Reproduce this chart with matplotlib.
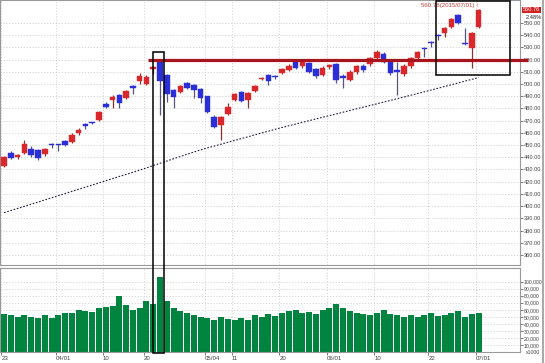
import numpy as np
import matplotlib
matplotlib.use('Agg')
import matplotlib.pyplot as plt
import matplotlib.transforms as mtransforms
from matplotlib.patches import Rectangle
from matplotlib.lines import Line2D

# daily candles
opens = [432.9, 443.5, 440.3, 443.5, 446.8, 446.0, 442.7, 450.6, 450.6, 453.4,
         452.5, 459.9, 467.3, 468.9, 470.6, 483.7, 486.9, 491.0, 488.6, 498.4,
         502.5, 500.0, 512.3, 518.9, 507.4, 495.1, 493.5, 500.8, 499.2, 495.9,
         490.2, 473.0, 466.5, 475.5, 486.9, 493.5, 486.9, 494.3, 504.1, 507.4,
         506.6, 509.1, 511.5, 518.1, 514.8, 517.2, 512.3, 507.4, 514.0, 516.4,
         506.6, 503.3, 509.9, 514.8, 516.4, 521.3, 524.6, 519.7, 511.5, 508.2,
         514.8, 521.3, 529.5, 534.4, 540.2, 541.8, 546.7, 556.6, 533.6, 529.5,
         546.7]
highs = [441.1, 445.2, 442.7, 454.2, 449.3, 446.8, 447.6, 451.5, 451.0, 454.2,
         459.9, 464.0, 468.1, 469.3, 477.9, 485.3, 491.0, 491.5, 495.1, 498.8,
         509.1, 507.4, 514.8, 520.0, 508.2, 496.0, 499.2, 501.7, 500.0, 496.8,
         490.2, 474.7, 474.0, 484.5, 492.7, 494.3, 493.5, 499.2, 505.8, 508.2,
         507.4, 513.1, 516.4, 519.0, 519.7, 518.1, 513.1, 514.8, 516.4, 517.2,
         508.2, 511.5, 515.6, 516.4, 522.2, 527.9, 526.2, 520.5, 518.1, 516.4,
         522.2, 527.0, 530.3, 535.2, 540.9, 546.5, 554.0, 557.4, 545.9, 542.6,
         561.5]
lows = [432.0, 438.6, 438.6, 443.0, 440.3, 437.8, 441.1, 447.6, 445.2, 449.3,
        451.7, 458.3, 463.2, 467.3, 469.7, 480.4, 480.4, 480.4, 487.7, 491.9,
        500.0, 499.2, 508.2, 474.7, 485.3, 480.4, 492.7, 496.0, 488.6, 484.5,
        476.3, 464.0, 454.2, 474.7, 486.1, 485.3, 480.4, 493.5, 503.3, 499.2,
        504.1, 508.2, 510.7, 512.3, 513.1, 509.1, 505.0, 506.6, 512.3, 500.8,
        496.8, 502.5, 508.2, 509.9, 514.8, 519.7, 517.2, 507.4, 491.0, 506.6,
        513.1, 520.5, 522.2, 530.3, 536.1, 538.5, 545.9, 549.2, 532.0, 513.1,
        545.9]
closes = [440.3, 439.4, 441.9, 450.9, 441.9, 439.4, 446.8, 450.1, 450.1, 450.1,
          458.3, 462.4, 465.6, 468.1, 477.1, 481.2, 489.4, 484.5, 494.3, 496.8,
          506.6, 505.8, 514.0, 502.5, 491.9, 489.4, 498.4, 496.8, 495.1, 488.6,
          477.1, 464.8, 473.0, 481.2, 491.9, 486.1, 492.7, 498.4, 505.0, 502.5,
          505.8, 512.3, 514.8, 513.1, 518.1, 509.9, 506.6, 513.1, 515.6, 503.3,
          505.0, 509.9, 514.8, 511.5, 521.3, 526.2, 518.1, 509.1, 509.9, 514.8,
          521.3, 526.2, 528.7, 533.6, 539.3, 545.9, 553.3, 550.0, 532.8, 541.8,
          560.76]
# long moving average (dotted line)
ma_line = [394.6, 396.4, 398.1, 399.8, 401.6, 403.3, 405.1, 406.8, 408.6, 410.3,
           412.1, 413.8, 415.5, 417.3, 419.0, 420.8, 422.5, 424.3, 426.0, 427.7,
           429.5, 431.3, 433.2, 435.1, 436.9, 438.8, 440.6, 442.5, 444.3, 446.1,
           447.7, 449.2, 450.7, 452.3, 453.8, 455.3, 456.8, 458.4, 459.9, 461.4,
           462.9, 464.4, 465.8, 467.2, 468.6, 470.0, 471.4, 472.8, 474.1, 475.5,
           476.9, 478.3, 479.7, 481.1, 482.4, 483.8, 485.2, 486.6, 488.0, 489.4,
           490.8, 492.2, 493.6, 495.1, 496.5, 498.0, 499.4, 500.9, 502.4, 503.8,
           505.3]
# volume, x1000
volume = [54, 52, 50, 53, 50, 48, 52, 49, 53, 56, 55, 60, 58, 57, 62, 64, 66, 80,
          67, 60, 62, 72, 68, 106, 73, 62, 58, 55, 52, 50, 48, 46, 50, 47, 45, 48,
          46, 52, 50, 54, 51, 56, 58, 60, 55, 57, 54, 60, 62, 68, 63, 58, 56, 54,
          52, 56, 60, 54, 52, 50, 53, 50, 52, 55, 51, 53, 56, 58, 50, 54, 56]

date_ticks = [0, 8, 15, 21, 30, 34, 41, 48, 55, 63, 70]
date_labels = ['23', '04/01', '10', '20', '05/04', '11', '20', '06/01', '10', '22', '07/01']
price_ticks = list(range(360, 560, 10))
vol_ticks = list(range(10, 110, 10))
resistance = 520.0
change_pct = 2.48
last_date = '2015/07/01'

UP = '#d9282b'
DOWN = '#2a2fd6'
GRID = '#d0d0d0'
FS = 4.4
FSR = 4.1
plt.rcParams['font.family'] = ['Liberation Sans', 'DejaVu Sans']

fig = plt.figure(figsize=(5.45, 3.63), dpi=100)
ax = fig.add_axes([0, 0.270, 0.954, 0.730])
axv = fig.add_axes([0, 0.0300, 0.954, 0.232], sharex=ax)

idx = np.arange(len(opens))
o = np.array(opens); c = np.array(closes)
h = np.array(highs); l = np.array(lows)
up = c >= o
cols = np.where(up, UP, DOWN)
wick_cols = np.where(up, '#8a3030', '#555580')

ax.vlines(idx, l, h, colors=wick_cols, lw=0.9, zorder=2)
body = np.maximum(np.abs(c - o), 0.6)
ax.bar(idx, body, bottom=np.minimum(o, c), width=0.82, color=cols,
       edgecolor=cols, lw=0.3, zorder=3)
ax.plot(idx, ma_line, color='#202040', lw=0.8, ls=(0, (1.5, 1.5)), zorder=2)
ax.hlines(resistance, 21.2, 77.3, color='#a8141c', lw=2.3, zorder=4, clip_on=False)

xlim = (-0.6, 76.1)
ax.set_xlim(*xlim)
ax.set_ylim(351.8, 568.8)
ax.yaxis.tick_right()
ax.set_yticks(price_ticks)
ax.set_yticklabels(['%.2f' % p for p in price_ticks])
ax.set_xticks([t - 0.4 for t in date_ticks])
ax.tick_params(axis='x', length=0, labelbottom=False)
ax.tick_params(axis='y', length=2, pad=1, labelsize=FSR, colors='#444444', width=0.5)
ax.grid(True, color=GRID, ls=(0, (1.5, 2)), lw=0.6)
ax.set_axisbelow(True)

# last price tag + change on the right
tr = mtransforms.blended_transform_factory(ax.transAxes, ax.transData)
ax.text(1.006, closes[-1], '%.2f' % closes[-1], transform=tr, fontsize=FSR,
        color='white', va='center', ha='left',
        bbox=dict(boxstyle='square,pad=0.1', fc='#d02020', ec='none'))
ax.text(1.012, closes[-1] - 6.5, '%.2f%%' % change_pct, transform=tr,
        fontsize=FSR, color='#222222', va='center', ha='left')
ax.text(61.5, 564.5, '%.2f(%s) \u2191' % (closes[-1], last_date), fontsize=FS,
        color='#cc3a3a', va='center', ha='left')

# volume panel
axv.bar(idx, volume, width=0.88, color='#00843f', edgecolor='none')
axv.set_ylim(0, 119.4)
axv.yaxis.tick_right()
axv.set_yticks(vol_ticks)
axv.set_yticklabels(['%d,000' % v for v in vol_ticks])
axv.set_xticks([t - 0.4 for t in date_ticks])
axv.set_xticklabels(date_labels)
for lab in axv.get_xticklabels():
    lab.set_horizontalalignment('left')
axv.tick_params(axis='x', length=2, pad=0.5, labelsize=FS, colors='#444444', width=0.5)
axv.tick_params(axis='y', length=2, pad=1, labelsize=3.7, colors='#444444', width=0.5)
axv.grid(True, color=GRID, ls=(0, (1.5, 2)), lw=0.6)
axv.set_axisbelow(True)
axv.text(1.012, -0.01, 'x1000', transform=axv.transAxes, fontsize=3.7,
         color='#444444', va='center', ha='left')

for a in (ax, axv):
    for s in a.spines.values():
        s.set_color('#999999')
        s.set_linewidth(0.8)

fig.add_artist(Line2D([0.997, 0.997], [0, 1], color='#aaaaaa', lw=1.5))


# black highlight boxes, placed from data coordinates
def box(ax_top, ax_bot, x0, x1, y_top, y_bot):
    inv = fig.transFigure.inverted()
    p0 = inv.transform(ax_top.transData.transform((x0, y_top)))
    p1 = inv.transform(ax_bot.transData.transform((x1, y_bot)))
    fig.add_artist(Rectangle((p0[0], p1[1]), p1[0] - p0[0], p0[1] - p1[1],
                             transform=fig.transFigure, fill=False,
                             ec='black', lw=1.1, zorder=10))


box(ax, axv, 21.9, 23.6, 526.2, -1.5)
box(ax, ax, 63.7, 74.6, 568.0, 507.4)

fig.savefig('out.png', dpi=100)
